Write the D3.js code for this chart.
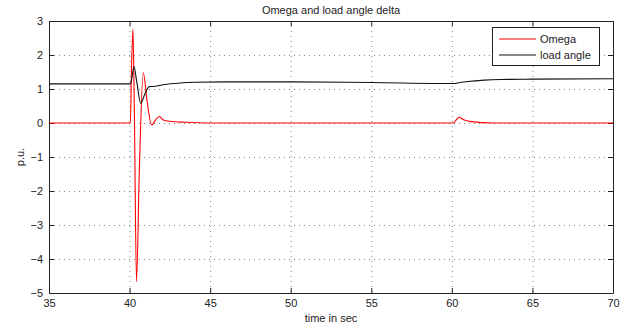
<!DOCTYPE html>
<html>
<head>
<meta http-equiv="Content-Type" content="text/html;charset=utf-8">
<title>Omega and load angle delta</title>
<style>
body { margin: 0; background: #fff; font-family: "Liberation Sans", Helvetica, Arial, sans-serif; }
svg text { font-family: "Liberation Sans", Helvetica, Arial, sans-serif; fill: #222; }
</style>
</head>
<body>
<svg id="chart" width="643" height="328"></svg>
<script src="https://cdn.jsdelivr.net/npm/d3@7"></script>
<script>
// series data: [time, value]
var omegaT = [35, 40.05, 40.12, 40.21, 40.3, 40.43, 40.6, 40.85, 41.1, 41.37, 41.6, 41.84, 42.1, 42.5, 43.5, 45, 60.1, 60.25, 60.45, 60.7, 61.2, 62.5, 70];
var omegaV = [0, 0, 1.6, 2.76, 0.2, -4.67, -1.5, 1.48, 0.6, -0.06, 0.08, 0.19, 0.09, 0.05, 0.02, 0, 0, 0.08, 0.17, 0.1, 0.04, 0, 0];
var deltaT = [35, 40.05, 40.15, 40.27, 40.45, 40.69, 40.95, 41.22, 41.6, 42, 43, 44, 46, 50, 55, 60.1, 60.5, 61, 62, 63, 65, 70];
var deltaV = [1.15, 1.15, 1.35, 1.66, 1.2, 0.58, 0.85, 1.07, 1.08, 1.12, 1.17, 1.2, 1.21, 1.21, 1.19, 1.16, 1.19, 1.22, 1.26, 1.28, 1.29, 1.3];
var xTicks = [35, 40, 45, 50, 55, 60, 65, 70];
var yTicks = [-5, -4, -3, -2, -1, 0, 1, 2, 3];
var seriesNames = ["Omega", "load angle"];

var svg = d3.select("#chart");
var pLeft = 49, pRight = 613, pTop = 21, pBottom = 293;

var x = d3.scaleLinear().domain([35, 70]).range([pLeft, pRight]);
var y = d3.scaleLinear().domain([-5, 3]).range([pBottom, pTop]);

// dotted grid
svg.append("g").selectAll("line").data(xTicks.slice(1, -1)).enter().append("line")
    .attr("x1", function(d) { return x(d) + 0.5; }).attr("x2", function(d) { return x(d) + 0.5; })
    .attr("y1", pTop).attr("y2", pBottom)
    .attr("stroke", "#888").attr("stroke-dasharray", "1,4");
svg.append("g").selectAll("line").data(yTicks.slice(1, -1)).enter().append("line")
    .attr("y1", function(d) { return y(d) + 0.5; }).attr("y2", function(d) { return y(d) + 0.5; })
    .attr("x1", pLeft).attr("x2", pRight)
    .attr("stroke", "#888").attr("stroke-dasharray", "1,4");

// axes, ticks pointing inwards (matlab box)
var fmt = d3.format("d");
svg.append("g").attr("transform", "translate(0," + pBottom + ")")
    .call(d3.axisBottom(x).tickValues(xTicks).tickSizeInner(-5).tickSizeOuter(0).tickPadding(6).tickFormat(fmt));
svg.append("g").attr("transform", "translate(0," + pTop + ")")
    .call(d3.axisTop(x).tickValues(xTicks).tickSizeInner(-5).tickSizeOuter(0).tickFormat(""));
svg.append("g").attr("transform", "translate(" + pLeft + ",0)")
    .call(d3.axisLeft(y).tickValues(yTicks).tickSizeInner(-5).tickSizeOuter(0).tickPadding(6).tickFormat(fmt));
svg.append("g").attr("transform", "translate(" + pRight + ",0)")
    .call(d3.axisRight(y).tickValues(yTicks).tickSizeInner(-5).tickSizeOuter(0).tickFormat(""));
svg.selectAll(".domain").attr("stroke", "#222");
svg.selectAll(".tick line").attr("stroke", "#222");
svg.selectAll(".tick text").attr("font-size", 11).attr("fill", "#222");

var line = d3.line()
    .x(function(d) { return x(d[0]); })
    .y(function(d) { return y(d[1]); })
    .curve(d3.curveMonotoneX);

svg.append("path").datum(d3.zip(omegaT, omegaV))
    .attr("d", line).attr("fill", "none").attr("stroke", "#ff0000").attr("stroke-width", 1.1);
svg.append("path").datum(d3.zip(deltaT, deltaV))
    .attr("d", line).attr("fill", "none").attr("stroke", "#111").attr("stroke-width", 1.1);

// titles
svg.append("text").attr("x", (pLeft + pRight) / 2).attr("y", 14).attr("text-anchor", "middle")
    .attr("font-size", 11).text("Omega and load angle delta");
svg.append("text").attr("x", (pLeft + pRight) / 2).attr("y", 322).attr("text-anchor", "middle")
    .attr("font-size", 11).text("time in sec");
svg.append("text").attr("transform", "translate(24," + ((pTop + pBottom) / 2) + ") rotate(-90)")
    .attr("text-anchor", "middle").attr("font-size", 11).text("p.u.");

// legend
var lg = svg.append("g");
lg.append("rect").attr("x", 492.5).attr("y", 27.5).attr("width", 107).attr("height", 38)
    .attr("fill", "#fff").attr("stroke", "#222");
var colors = ["#ff0000", "#111"];
seriesNames.forEach(function(n, i) {
    var yy = 39 + i * 16;
    lg.append("line").attr("x1", 499).attr("x2", 536).attr("y1", yy).attr("y2", yy)
        .attr("stroke", colors[i]).attr("stroke-width", 1.1);
    lg.append("text").attr("x", 540).attr("y", yy + 4).attr("font-size", 11).text(n);
});
</script>
</body>
</html>
